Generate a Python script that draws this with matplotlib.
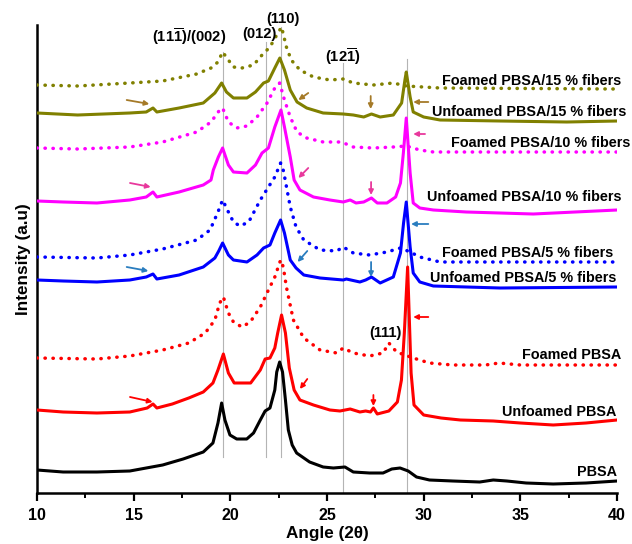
import matplotlib
matplotlib.use("Agg")
import matplotlib.pyplot as plt

plt.rcParams['font.family'] = ['Liberation Sans', 'DejaVu Sans']
plt.rcParams['font.weight'] = 'bold'
plt.rcParams['mathtext.fontset'] = 'custom'
plt.rcParams['mathtext.rm'] = 'Liberation Sans:bold'
plt.rcParams['mathtext.bf'] = 'Liberation Sans:bold'
plt.rcParams['mathtext.it'] = 'Liberation Sans:bold:italic'

# ---------------- data (angle in degrees 2theta, intensity in a.u., stacked) -------------
pbsa_x = [10, 11.35, 13.1, 14.8, 16.5, 17.56, 18.6, 19.1, 19.36, 19.55, 19.72, 19.98, 20.33,
          20.85, 21.2, 21.55, 21.8, 22.05, 22.3, 22.4, 22.55, 22.7, 22.85, 23.0, 23.2, 23.43,
          24.1, 24.8, 25.33, 25.93, 26.36, 27.2, 27.9, 28.35, 28.78, 29.2, 29.63, 30.3, 31.5,
          32.9, 33.6, 34.3, 35.3, 36.7, 38.4, 40]
pbsa_y = [23, 21, 21, 22, 28, 34, 41, 50, 70, 90, 73, 58, 54,
          54, 60, 73, 82, 85, 103, 121, 131, 121, 93, 63, 48, 40,
          31, 26, 25, 26, 21, 20, 20, 24, 25, 22, 16, 13, 12,
          11, 13, 12, 10, 9, 10, 12]

unf_x = [10, 11.35, 13.1, 14.8, 15.7, 16.0, 16.2, 17.0, 17.85, 18.6, 19.1, 19.36, 19.64, 19.9,
         20.2, 21.05, 21.55, 21.8, 22.05, 22.3, 22.45, 22.65, 22.85, 23.05, 23.3, 23.6, 24.3,
         25.15, 25.67, 26.2, 26.7, 27.0, 27.25, 27.4, 27.6, 28.2, 28.64, 28.85, 29.0, 29.17,
         29.35, 29.5, 30.0, 30.9, 31.9, 33.6, 35.0, 36.7, 38.4, 40]
unf_y = [83, 81, 80, 81, 85, 89, 85, 89, 95, 101, 110, 123, 139, 120,
         110, 110, 123, 134, 135, 145, 160, 178, 160, 125, 103, 93, 88,
         83, 82, 84, 81, 82, 81, 85, 79, 82, 91, 113, 160, 226,
         120, 88, 78, 75, 73, 72, 70, 68, 70, 73]

foam_x = [10, 13.1, 14.8, 16.5, 17.85, 18.7, 19.2, 19.45, 19.64, 19.9, 20.16, 20.6, 21.03,
          21.55, 21.97, 22.3, 22.6, 22.74, 22.9, 23.26, 23.8, 24.64, 25.5, 25.84, 26.36, 27.2,
          27.9, 28.2, 28.6, 29.46, 30.3, 31.5, 33.2, 33.9, 35.0, 36.7, 40]
foam_y = [135, 134, 137, 143, 150, 160, 173, 190, 196, 180, 171, 166, 171,
          186, 203, 216, 233, 226, 206, 173, 155, 143, 140, 145, 140, 137,
          140, 150, 141, 135, 130, 128, 128, 130, 128, 128, 128]

unf5_x = [10, 11.35, 13.1, 14.8, 15.65, 16.0, 16.2, 17.35, 18.6, 19.2, 19.4, 19.6, 19.9, 20.16,
          20.86, 21.38, 21.72, 22.05, 22.3, 22.6, 22.8, 23.1, 23.4, 23.8, 24.64, 25.84, 26.0,
          26.7, 27.0, 27.3, 27.75, 28.43, 28.8, 28.96, 29.1, 29.3, 29.46, 29.8, 30.5, 33.95, 40]
unf5_y = [213, 212, 211, 213, 216, 219, 214, 218, 226, 235, 242, 250, 238, 233,
          231, 238, 245, 248, 260, 273, 260, 233, 225, 218, 215, 213, 214,
          211, 213, 216, 210, 216, 240, 270, 291, 246, 220, 211, 207, 205, 206]

foam5_x = [10, 13.1, 14.8, 16.5, 18.26, 18.95, 19.36, 19.6, 19.9, 20.16, 20.5, 20.95, 21.55,
           21.97, 22.3, 22.6, 22.75, 23.1, 23.4, 23.8, 24.64, 25.5, 25.84, 26.36, 27.2, 28.1,
           28.8, 29.3, 29.8, 30.85, 40]
foam5_y = [236, 235, 238, 244, 253, 263, 281, 293, 281, 271, 267, 271, 293,
           306, 316, 330, 322, 286, 266, 253, 243, 242, 246, 240, 238, 241,
           245, 241, 236, 231, 231]

unf10_x = [10, 11.35, 13.1, 14.8, 15.65, 16.0, 16.2, 17.35, 18.6, 19.0, 19.12, 19.38, 19.6,
           19.9, 20.16, 20.86, 21.3, 21.64, 21.97, 22.3, 22.62, 22.8, 23.1, 23.3, 23.6, 24.3,
           25.15, 25.84, 26.2, 26.5, 26.9, 27.3, 27.6, 28.1, 28.55, 28.8, 28.95, 29.1, 29.3,
           29.46, 29.8, 30.5, 32.2, 35.67, 40]
unf10_y = [292, 291, 290, 293, 296, 301, 296, 301, 308, 313, 323, 336, 345,
           328, 321, 320, 328, 340, 345, 366, 383, 366, 336, 313, 303, 296,
           293, 291, 293, 290, 291, 295, 290, 290, 296, 310, 340, 375, 320,
           290, 285, 283, 281, 279, 283]

foam10_x = [10, 12.1, 14.8, 16.5, 18.26, 19.0, 19.45, 19.6, 19.9, 20.33, 20.86, 21.38, 21.9,
            22.3, 22.55, 22.8, 23.1, 23.45, 23.95, 24.8, 25.75, 26.36, 27.4, 28.43, 29.1,
            29.8, 30.5, 40]
foam10_y = [345, 344, 346, 351, 361, 371, 383, 385, 371, 365, 367, 376, 390,
            405, 410, 393, 376, 361, 355, 351, 351, 346, 345, 346, 347,
            343, 341, 341]

unf15_x = [10, 12.1, 14.8, 15.65, 16.0, 16.2, 17.35, 18.6, 19.2, 19.55, 19.8, 20.16, 20.86,
           21.3, 21.72, 21.97, 22.3, 22.56, 22.8, 23.1, 23.45, 23.95, 24.8, 25.84, 26.36,
           26.9, 27.3, 27.75, 28.43, 28.86, 29.03, 29.1, 29.3, 29.46, 30.0, 30.85, 33.95,
           37.4, 40]
unf15_y = [380, 378, 380, 381, 385, 381, 385, 390, 400, 410, 401, 395, 395,
           401, 410, 412, 425, 435, 423, 403, 391, 385, 380, 379, 378,
           376, 379, 376, 378, 390, 413, 421, 396, 381, 376, 373, 372,
           371, 372]

foam15_x = [10, 12.1, 14.8, 16.5, 18.26, 19.0, 19.36, 19.6, 19.9, 20.16, 20.6, 21.2, 21.64,
            22.05, 22.4, 22.65, 22.9, 23.15, 23.6, 24.3, 25.15, 25.84, 26.36, 27.4, 28.43,
            29.1, 30.85, 40]
foam15_y = [408, 407, 410, 412, 419, 425, 431, 441, 433, 426, 425, 428, 438,
            446, 458, 466, 446, 433, 423, 416, 413, 414, 410, 408, 410,
            407, 405, 404]

series_names = ["PBSA", "Unfoamed PBSA", "Foamed PBSA",
                "Unfoamed PBSA/5 % fibers", "Foamed PBSA/5 % fibers",
                "Unfoamed PBSA/10 % fibers", "Foamed PBSA/10 % fibers",
                "Unfoamed PBSA/15 % fibers", "Foamed PBSA/15 % fibers"]

# reflections (vertical guide lines)
ref_pos = [19.64, 21.86, 22.63, 25.84, 29.12]
ref_lo = [36, 36, 36, 0, 0]
ref_hi = [441, 451, 466, 430, 434]

peak_labels = [r"$\mathbf{(11\overline{1})/(002)}$", "(012)", "(110)",
               r"$\mathbf{(12\overline{1})}$", "(111)"]
peak_lab_x = [17.89, 21.53, 22.74, 25.84, 28.0]
peak_lab_y = [456, 459, 474, 436, 160]

x_ticks = [10, 15, 20, 25, 30, 35, 40]

# ---------------- styles -------------
OLIVE = '#808000'
MAG = '#ff00ff'
BLUE = '#0000ff'
RED = '#ff0000'
dot = dict(linestyle=(0, (0.1, 2.2)), dash_capstyle='round', lw=2.5)
solid = dict(linestyle='-', lw=2.2, solid_joinstyle='round')

series = [
    (pbsa_x, pbsa_y, 'black', solid),
    (unf_x, unf_y, RED, solid),
    (foam_x, foam_y, RED, dot),
    (unf5_x, unf5_y, BLUE, solid),
    (foam5_x, foam5_y, BLUE, dot),
    (unf10_x, unf10_y, MAG, solid),
    (foam10_x, foam10_y, MAG, dot),
    (unf15_x, unf15_y, OLIVE, solid),
    (foam15_x, foam15_y, OLIVE, dot),
]

label_x = [39.98, 39.98, 40.24, 39.98, 39.81, 40.24, 40.67, 40.5, 40.24]
label_y = [21, 81, 138, 215, 240, 296, 350, 381, 412]

# arrows: (x_start, y_start, x_end, y_end, colour)
ARR_OL = '#a57a28'
ARR_MG = '#e8389c'
ARR_BL = '#2a7dbf'
arrows = [
    (14.64, 393, 15.81, 389, ARR_OL), (24.03, 400, 23.52, 393, ARR_OL),
    (27.26, 397, 27.26, 384, ARR_OL), (30.24, 391, 29.46, 391, ARR_OL),
    (14.81, 310, 15.88, 306, ARR_MG), (24.03, 325, 23.52, 315, ARR_MG),
    (27.28, 311, 27.28, 298, ARR_MG), (30.07, 359, 29.46, 359, ARR_MG),
    (14.64, 226, 15.76, 222, ARR_BL), (23.98, 242, 23.48, 231, ARR_BL),
    (27.28, 231, 27.28, 216, ARR_BL), (30.24, 269, 29.35, 269, ARR_BL),
    (14.81, 96, 15.98, 91, RED), (23.98, 114, 23.6, 104, RED),
    (27.4, 98, 27.4, 87, RED), (30.24, 176, 29.46, 176, RED),
]

# ---------------- figure -------------
fig = plt.figure(figsize=(6.32, 5.44), dpi=100)
ax = fig.add_axes([37 / 632, 51 / 544, 580 / 632, 468 / 544])

for xp, lo, hi in zip(ref_pos, ref_lo, ref_hi):
    ax.plot([xp, xp], [lo, hi], color='#b4b4b4', lw=0.8, zorder=1)

for (xs, ys, c, st), name, lx, ly in zip(series, series_names, label_x, label_y):
    ax.plot(xs, ys, color=c, zorder=3, **st)
    ax.text(lx, ly, name, ha='right', va='center', fontsize=10.4, fontweight='bold',
            clip_on=False, zorder=5)

for lab, lx, ly in zip(peak_labels, peak_lab_x, peak_lab_y):
    ax.text(lx, ly, lab, ha='center', va='center', fontsize=10.6, fontweight='bold',
            clip_on=False, zorder=5)

for x0, y0, x1, y1, c in arrows:
    ax.annotate('', xy=(x1, y1), xytext=(x0, y0),
                arrowprops=dict(arrowstyle='-|>', color=c, lw=1.3, mutation_scale=7,
                                shrinkA=0, shrinkB=0), zorder=6)

ax.set_xlim(10, 40)
ax.set_ylim(0, 468)
ax.set_xticks(x_ticks)
ax.set_xticks([12.5, 17.5, 22.5, 27.5, 32.5, 37.5], minor=True)
ax.set_yticks([])
ax.tick_params(axis='x', which='major', direction='out', length=6, width=1.6,
               labelsize=11.5, pad=5)
ax.tick_params(axis='x', which='minor', direction='out', length=3.5, width=1.4)
for lab in ax.get_xticklabels():
    lab.set_fontweight('bold')
ax.spines['top'].set_visible(False)
ax.spines['right'].set_visible(False)
ax.spines['left'].set_linewidth(1.8)
ax.spines['bottom'].set_linewidth(1.8)

ax.set_xlabel('Angle (2θ)', fontsize=12.3, fontweight='bold', labelpad=2)
ax.set_ylabel('Intensity (a.u)', fontsize=12.3, fontweight='bold', labelpad=4)

fig.savefig('out.png', dpi=100)
